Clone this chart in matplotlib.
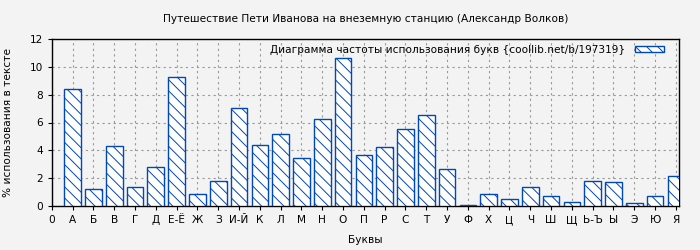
import matplotlib
matplotlib.use('Agg')
import matplotlib.pyplot as plt

letters = ['А', 'Б', 'В', 'Г', 'Д', 'Е-Ё', 'Ж', 'З', 'И-Й', 'К', 'Л', 'М', 'Н', 'О', 'П',
           'Р', 'С', 'Т', 'У', 'Ф', 'Х', 'Ц', 'Ч', 'Ш', 'Щ', 'Ь-Ъ', 'Ы', 'Э', 'Ю', 'Я']
percent = [8.4, 1.22, 4.31, 1.36, 2.8, 9.27, 0.86, 1.8, 7.05, 4.38, 5.17, 3.45, 6.26, 10.63, 3.66,
           4.24, 5.53, 6.53, 2.66, 0.07, 0.86, 0.5, 1.36, 0.72, 0.26, 1.77, 1.7, 0.19, 0.72, 2.13]

fs = 7.6
plt.rcParams['hatch.color'] = '#0047b8'
plt.rcParams['hatch.linewidth'] = 0.7

fig = plt.figure(figsize=(7, 2.5), dpi=100, facecolor='#f3f3f3')
ax = fig.add_axes([0.074, 0.176, 0.896, 0.668])
ax.set_facecolor('#f3f3f3')

x = list(range(1, len(letters) + 1))
ax.bar(x, percent, width=0.8, color='white', edgecolor='#0047b8', linewidth=1,
       hatch='\\\\\\', label='Диаграмма частоты использования букв {coollib.net/b/197319}', zorder=3)

ax.set_xlim(0, 30.15)
ax.set_ylim(0, 12)
ax.set_xticks([0] + x)
ax.set_xticklabels(['0'] + letters, fontsize=fs)
ax.set_yticks(range(0, 13, 2))
ax.tick_params(axis='y', labelsize=fs, length=3)
ax.tick_params(axis='x', length=3)
ax.grid(True, color='#999999', linestyle=(0, (2, 3)), linewidth=0.8, zorder=0)
for s in ax.spines.values():
    s.set_linewidth(1)

ax.set_xlabel('Буквы', fontsize=fs, labelpad=7)
ax.set_ylabel('% использования в тексте', fontsize=fs, labelpad=12)
ax.set_title('Путешествие Пети Иванова на внеземную станцию (Александр Волков)', fontsize=fs, pad=12)

ax.legend(loc='upper right', bbox_to_anchor=(0.986, 1.0), frameon=False, fontsize=fs,
          markerfirst=False, handlelength=2.8, handleheight=0.5, handletextpad=0.9,
          borderaxespad=0.15)

fig.savefig('out.png', dpi=100, facecolor=fig.get_facecolor())
